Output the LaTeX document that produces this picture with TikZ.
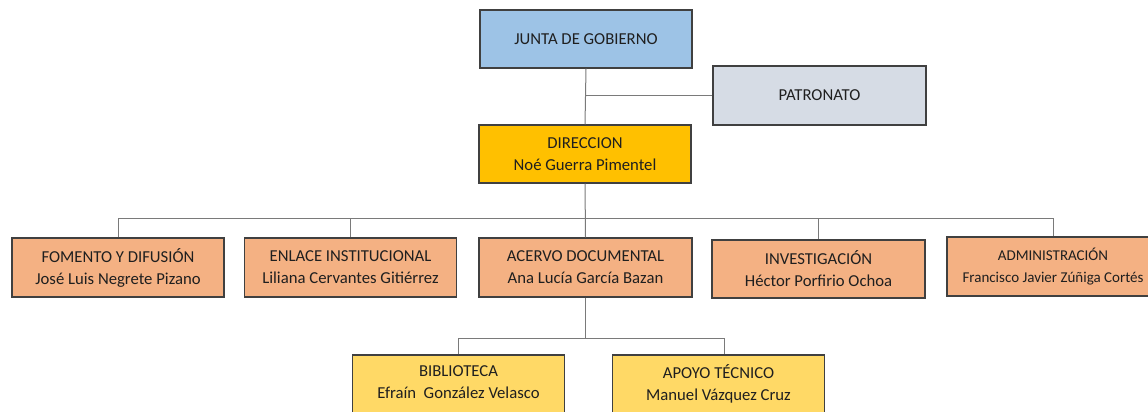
\documentclass[tikz,border=0pt]{standalone}
\usepackage{fontspec}
\setmainfont{Carlito}
\definecolor{bjunta}{HTML}{9DC3E6}
\definecolor{bpatr}{HTML}{D6DCE5}
\definecolor{bdir}{HTML}{FFC000}
\definecolor{barea}{HTML}{F4B183}
\definecolor{bsub}{HTML}{FFD966}
\definecolor{edge}{HTML}{404040}
\definecolor{conncol}{HTML}{7A7A7A}
\definecolor{txt}{HTML}{1F1F1F}
\begin{document}
\begin{tikzpicture}[x=1pt,y=-1pt,
  box/.style={draw=edge, line width=1.1pt, minimum width=212pt, minimum height=58pt, inner sep=0pt, align=center, text=txt, font=\fontsize{16.7}{22}\selectfont},
  conn/.style={draw=conncol, line width=1pt}]
\clip (0,0) rectangle (1148,412);
\fill[white] (0,0) rectangle (1148,412);
\node[box, fill=bjunta] (junta) at (586,39) {JUNTA DE GOBIERNO};
\node[box, fill=bpatr, minimum width=213pt, minimum height=59pt] (patr) at (819.5,95.5) {PATRONATO};
\node[box, fill=bdir] (dir) at (585,154) {DIRECCION\\Noé Guerra Pimentel};
\node[box, fill=barea, minimum height=59pt] (fom) at (118,267.5) {FOMENTO Y DIFUSIÓN\\José Luis Negrete Pizano};
\node[box, fill=barea, minimum height=59pt] (enl) at (350.5,267.5) {ENLACE INSTITUCIONAL\\Liliana Cervantes Gitiérrez};
\node[box, fill=barea, minimum width=213pt, minimum height=59pt] (acer) at (585.5,267.5) {ACERVO DOCUMENTAL\\Ana Lucía García Bazan};
\node[box, fill=barea, minimum width=213pt, minimum height=58pt] (inv) at (818.5,269) {INVESTIGACIÓN\\Héctor Porfirio Ochoa};
\node[box, fill=barea, minimum width=212pt, minimum height=59pt, font=\fontsize{15}{22}\selectfont] (adm) at (1053,266.5) {ADMINISTRACIÓN\\Francisco Javier Zúñiga Cortés};
\node[box, fill=bsub, minimum width=212pt, minimum height=80pt] (bib) at (458.5,395) {};
\node[box, fill=bsub, minimum width=212pt, minimum height=80pt] (apo) at (718.5,395) {};
\node[align=center, text=txt, font=\fontsize{16.7}{22}\selectfont, anchor=north, inner sep=0pt] (bibt) at (458.5,365) {BIBLIOTECA\\Efraín\ \ González Velasco};
\node[align=center, text=txt, font=\fontsize{16.7}{22}\selectfont, anchor=north, inner sep=0pt] (apot) at (718.5,364) {APOYO TÉCNICO\\Manuel Vázquez Cruz};
% connectors
\coordinate (bus) at (0,218);
\coordinate (sbus) at (0,338);
\coordinate (apoin) at (724,0);
\draw[conn] (junta.south) -- (dir.north);
\draw[conn] (patr.west) -- (patr.west -| junta.south);
\draw[conn] (dir.south) -- (acer.north);
\draw[conn] (fom.north) -- (fom.north |- bus) -- (adm.north |- bus) -- (adm.north);
\draw[conn] (enl.north) -- (enl.north |- bus);
\draw[conn] (inv.north) -- (inv.north |- bus);
\draw[conn] (acer.south) -- (acer.south |- sbus);
\draw[conn] (bib.north) -- (bib.north |- sbus) -- (apoin |- sbus) -- (apoin |- apo.north);
\end{tikzpicture}
\end{document}
